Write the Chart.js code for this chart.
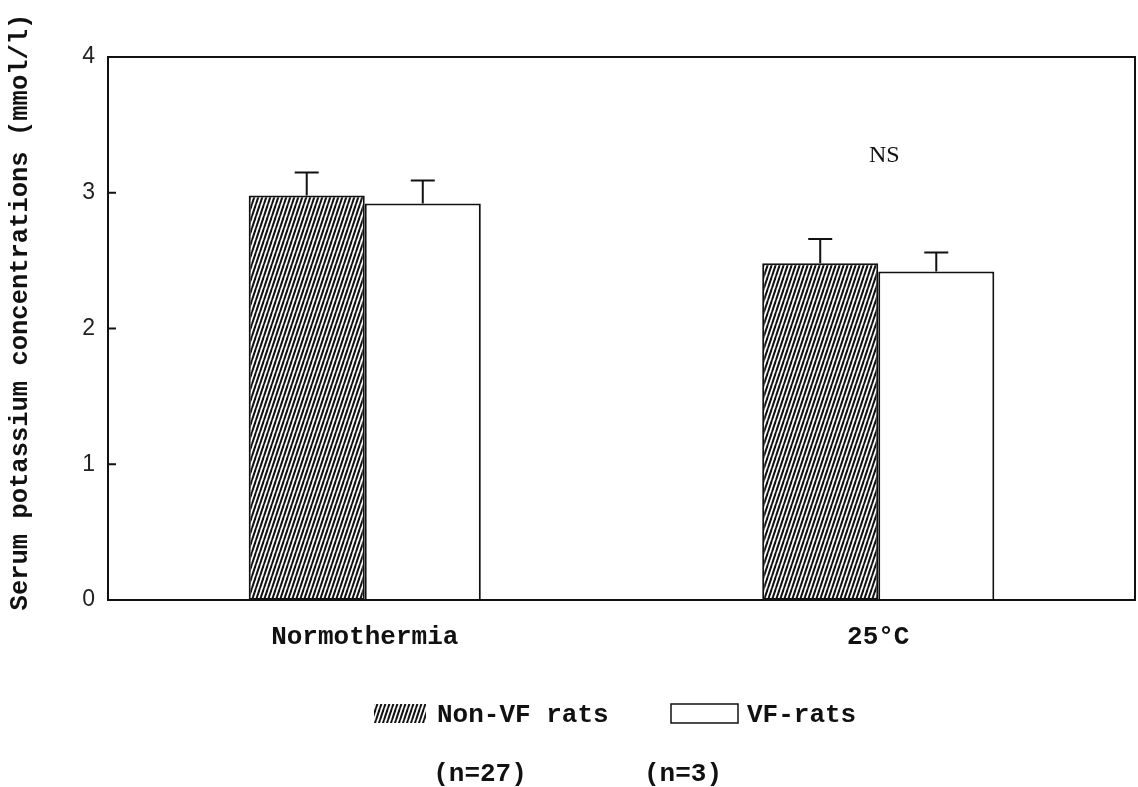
<!DOCTYPE html>
<html>
<head>
<meta charset="utf-8">
<script src="https://cdn.jsdelivr.net/npm/chart.js@4.4.1/dist/chart.umd.min.js"></script>
<style>
html,body{margin:0;padding:0;background:#fff;}
#wrap{width:1138px;height:787px;position:relative;}
</style>
</head>
<body>
<div id="wrap"><canvas id="c" width="1138" height="787"></canvas></div>
<script>
const categories = ['Normothermia', '25°C'];
const nonVF = [2.98, 2.48];
const nonVFErr = [0.17, 0.18];
const vf = [2.92, 2.42];
const vfErr = [0.17, 0.14];
const yTicks = [0, 1, 2, 3, 4];
const seriesNames = ['Non-VF rats', 'VF-rats'];
const seriesN = ['(n=27)', '(n=3)'];
const yTitle = 'Serum potassium concentrations (mmol/l)';
const note = 'NS';

const INK = '#111';
const MONO = '"Liberation Mono", "DejaVu Sans Mono", monospace';

function makeHatch(ctx) {
  const c = document.createElement('canvas');
  c.width = 4; c.height = 12;
  const g = c.getContext('2d');
  g.fillStyle = '#fff'; g.fillRect(0, 0, 4, 12);
  g.strokeStyle = INK; g.lineWidth = 2;
  for (let k = -1; k <= 1; k++) {
    g.beginPath(); g.moveTo(k * 4, 12); g.lineTo(k * 4 + 4, 0); g.stroke();
  }
  return ctx.createPattern(c, 'repeat');
}

const ctx = document.getElementById('c').getContext('2d');
const hatch = makeHatch(ctx);
const errs = [nonVFErr, vfErr];

const extras = {
  id: 'extras',
  afterDatasetsDraw(chart) {
    const g = chart.ctx;
    const y = chart.scales.y;
    const a = chart.chartArea;
    g.save();
    // error bars
    g.strokeStyle = INK; g.lineWidth = 2;
    chart.data.datasets.forEach((ds, di) => {
      const meta = chart.getDatasetMeta(di);
      meta.data.forEach((bar, i) => {
        const top = y.getPixelForValue(ds.data[i] + errs[di][i]);
        g.beginPath();
        g.moveTo(bar.x, bar.y); g.lineTo(bar.x, top);
        g.moveTo(bar.x - 12, top); g.lineTo(bar.x + 12, top);
        g.stroke();
      });
    });
    // frame
    g.lineWidth = 2;
    g.strokeRect(a.left, a.top, a.right - a.left, a.bottom - a.top);
    // inward ticks
    yTicks.forEach(v => {
      const py = y.getPixelForValue(v);
      g.beginPath(); g.moveTo(a.left, py); g.lineTo(a.left + 8, py); g.stroke();
    });
    // NS
    g.fillStyle = INK;
    g.font = '24px "Liberation Serif", "DejaVu Serif", serif';
    g.textAlign = 'center'; g.textBaseline = 'middle';
    const xs = chart.scales.x;
    g.fillText(note, xs.getPixelForValue(1) + 6, y.getPixelForValue(3.27));
    // y title
    g.save();
    g.translate(21, 312);
    g.rotate(-Math.PI / 2);
    g.font = 'bold 25.5px ' + MONO;
    g.fillText(yTitle, 0, 0);
    g.restore();
    // legend
    g.lineWidth = 1.5;
    g.fillStyle = hatch;
    g.fillRect(374, 704, 52, 19);
    g.fillStyle = '#fff';
    g.fillRect(671, 704, 67, 19);
    g.strokeRect(671, 704, 67, 19);
    g.fillStyle = INK;
    g.font = 'bold 26px ' + MONO;
    g.textAlign = 'left';
    g.fillText(seriesNames[0], 437, 715);
    g.fillText(seriesNames[1], 747, 715);
    g.textAlign = 'center';
    g.fillText(seriesN[0], 480, 774);
    g.fillText(seriesN[1], 683, 774);
    g.restore();
  }
};

new Chart(ctx, {
  type: 'bar',
  data: {
    labels: categories,
    datasets: [
      { label: seriesNames[0], data: nonVF, backgroundColor: hatch, borderColor: INK, borderWidth: 2, borderSkipped: false,
        categoryPercentage: 0.452, barPercentage: 1 },
      { label: seriesNames[1], data: vf, backgroundColor: '#fff', borderColor: INK, borderWidth: 2, borderSkipped: 'bottom',
        categoryPercentage: 0.452, barPercentage: 1 }
    ]
  },
  options: {
    responsive: false,
    animation: false,
    devicePixelRatio: 1,
    layout: { padding: { left: 0, top: 57, right: 3, bottom: 0 } },
    plugins: { legend: { display: false }, tooltip: { enabled: false } },
    scales: {
      x: {
        grid: { display: false, drawTicks: false },
        border: { display: false },
        ticks: { color: INK, font: { family: MONO, size: 26, weight: 'bold' }, padding: 22 },
        afterFit(s) { s.height = 187; }
      },
      y: {
        min: 0, max: 4,
        afterBuildTicks(s) { s.ticks = yTicks.map(v => ({ value: v })); },
        grid: { display: false, drawTicks: false },
        border: { display: false },
        ticks: { color: '#222', font: { family: '"Liberation Sans", Arial, sans-serif', size: 23 }, padding: 13 },
        afterFit(s) { s.width = 108; }
      }
    }
  },
  plugins: [extras]
});
</script>
</body>
</html>
